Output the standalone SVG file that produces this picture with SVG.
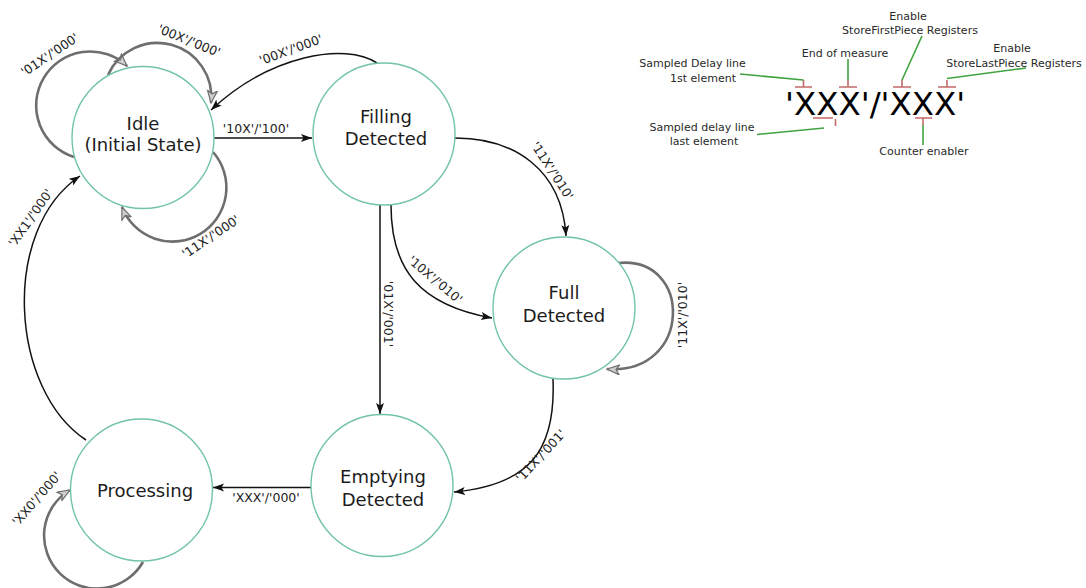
<svg xmlns="http://www.w3.org/2000/svg" width="1086" height="588" viewBox="0 0 1086 588">
  <style>
    .state { fill: #ffffff; stroke: #72c4a6; stroke-width: 1.4; }
    .name { font-family: "DejaVu Sans", Verdana, sans-serif; font-size: 18px; fill: #1c1c1c; text-anchor: middle; }
    .edge { fill: none; stroke: #111111; stroke-width: 1.5; }
    .loop { fill: none; stroke: #6e6e6e; stroke-width: 2.6; }
    .lbl { font-family: "DejaVu Sans", Verdana, sans-serif; font-size: 12.5px; fill: #222222; text-anchor: middle; }
    .note { font-family: "DejaVu Sans", Verdana, sans-serif; font-size: 11px; fill: #2a2a2a; text-anchor: middle; }
    .big { font-family: "DejaVu Sans", Verdana, sans-serif; font-size: 32.5px; fill: #000000; }
    .tick { fill: none; stroke: #c46a6a; stroke-width: 1.6; }
    .lead { fill: none; stroke: #3fa33f; stroke-width: 1.6; }
  </style>
  <defs>
    <marker id="arrow" markerUnits="userSpaceOnUse" markerWidth="12" markerHeight="9" refX="11" refY="4" orient="auto">
      <path d="M0,0 L11,4 L0,8 L2.5,4 z" fill="#111111"/>
    </marker>
    <marker id="hollow" markerUnits="userSpaceOnUse" markerWidth="15" markerHeight="12" refX="13" refY="5.5" orient="auto">
      <path d="M0.5,0.5 L13,5.5 L0.5,10.5 L4,5.5 z" fill="#cfcfcf" stroke="#6e6e6e" stroke-width="1.2" stroke-linejoin="miter"/>
    </marker>
  </defs>

  <rect width="1086" height="588" fill="#ffffff"/>

  <!-- transitions -->
  <g id="connectors">
    <!-- self loops on Idle -->
    <path class="loop" d="M 74 157 A 54 54 0 1 1 127 66" marker-end="url(#hollow)"/>
    <path class="loop" d="M 108 75 A 54 54 0 0 1 211 103" marker-end="url(#hollow)"/>
    <path class="loop" d="M 213 152 A 54 54 0 1 1 122 207" marker-end="url(#hollow)"/>
    <!-- self loop on Full Detected -->
    <path class="loop" d="M 618 263 C 693 255, 693 375, 607 369" marker-end="url(#hollow)"/>
    <!-- self loop on Processing -->
    <path class="loop" d="M 143 562 A 53 53 0 1 1 70 490" marker-end="url(#hollow)"/>

    <!-- state changes -->
    <path class="edge" d="M 214 138 L 312 138" marker-end="url(#arrow)"/>
    <path class="edge" d="M 377 63 C 345 42, 270 55, 211 110" marker-end="url(#arrow)"/>
    <path class="edge" d="M 455 138 C 515 138, 562 170, 566 236" marker-end="url(#arrow)"/>
    <path class="edge" d="M 391 205 C 391 270, 420 305, 492 318" marker-end="url(#arrow)"/>
    <path class="edge" d="M 380 205 L 380 414" marker-end="url(#arrow)"/>
    <path class="edge" d="M 553 379 C 556 450, 530 485, 454 492" marker-end="url(#arrow)"/>
    <path class="edge" d="M 311 487.5 L 213 487.5" marker-end="url(#arrow)"/>
    <path class="edge" d="M 86 440 C 10 390, 0 230, 80 176" marker-end="url(#arrow)"/>

    <!-- transition labels -->
    <text class="lbl" transform="translate(50 55) rotate(-34)" y="4">'01X'/'000'</text>
    <text class="lbl" transform="translate(189 41) rotate(22)" y="4">'00X'/'000'</text>
    <text class="lbl" transform="translate(211 237) rotate(-34)" y="4">'11X'/'000'</text>
    <text class="lbl" x="256" y="133">'10X'/'100'</text>
    <text class="lbl" transform="translate(291 50) rotate(-20)" y="4">'00X'/'000'</text>
    <text class="lbl" transform="translate(552 171) rotate(57)" y="4">'11X'/'010'</text>
    <text class="lbl" transform="translate(435 280) rotate(40)" y="4">'10X'/'010'</text>
    <text class="lbl" transform="translate(388 314) rotate(90)" y="4">'01X'/'001'</text>
    <text class="lbl" transform="translate(683 315) rotate(-90)" y="4">'11X'/'010'</text>
    <text class="lbl" transform="translate(541 456) rotate(-47)" y="4">'11X'/'001'</text>
    <text class="lbl" x="266" y="502">'XXX'/'000'</text>
    <text class="lbl" transform="translate(31 218) rotate(-55)" y="4">'XX1'/'000'</text>
    <text class="lbl" transform="translate(37 499) rotate(-49)" y="4">'XX0'/'000'</text>
  </g>

  <!-- states -->
  <g id="idle">
    <circle class="state" cx="143" cy="137.5" r="71"/>
    <text class="name" x="143" y="130">Idle</text>
    <text class="name" x="143" y="151">(Initial State)</text>
  </g>
  <g id="filling">
    <circle class="state" cx="384" cy="134" r="71"/>
    <text class="name" x="386" y="123">Filling</text>
    <text class="name" x="386" y="145">Detected</text>
  </g>
  <g id="full">
    <circle class="state" cx="564" cy="308" r="71"/>
    <text class="name" x="564" y="299">Full</text>
    <text class="name" x="564" y="322">Detected</text>
  </g>
  <g id="emptying">
    <circle class="state" cx="382" cy="485.5" r="71"/>
    <text class="name" x="383" y="483">Emptying</text>
    <text class="name" x="383" y="506">Detected</text>
  </g>
  <g id="processing">
    <circle class="state" cx="141.5" cy="490" r="71"/>
    <text class="name" x="145" y="497">Processing</text>
  </g>

  <!-- key to the 'input'/'output' code -->
  <g id="legend">
    <text class="big" x="785" y="115">'XXX'/'XXX'</text>
    <!-- brackets on the code digits -->
    <path class="tick" d="M 795 87 H 812 M 803.5 80 V 87"/>
    <path class="tick" d="M 839 87 H 857 M 848 80 V 87"/>
    <path class="tick" d="M 893 87 H 911 M 902 80 V 87"/>
    <path class="tick" d="M 938 87 H 956 M 947 80 V 87"/>
    <path class="tick" d="M 813 118 H 833 M 835.5 119 V 126"/>
    <path class="tick" d="M 915 118 H 932 M 923 118 V 125"/>
    <!-- leader lines -->
    <path class="lead" d="M 740 74 L 803.5 80"/>
    <path class="lead" d="M 848 59 V 80"/>
    <path class="lead" d="M 922 36 L 902 80"/>
    <path class="lead" d="M 1026 68 L 947 78.5"/>
    <path class="lead" d="M 757 134.5 L 824 128"/>
    <path class="lead" d="M 923 125 V 145"/>
    <!-- captions -->
    <text class="note" x="692.5" y="67">Sampled Delay line</text>
    <text class="note" x="703" y="82">1st element</text>
    <text class="note" x="845" y="57">End of measure</text>
    <text class="note" x="908" y="20">Enable</text>
    <text class="note" x="910" y="34">StoreFirstPiece Registers</text>
    <text class="note" x="1012" y="52">Enable</text>
    <text class="note" x="1014" y="67">StoreLastPiece Registers</text>
    <text class="note" x="702" y="131">Sampled delay line</text>
    <text class="note" x="704" y="145">last element</text>
    <text class="note" x="924" y="155">Counter enabler</text>
  </g>
</svg>
